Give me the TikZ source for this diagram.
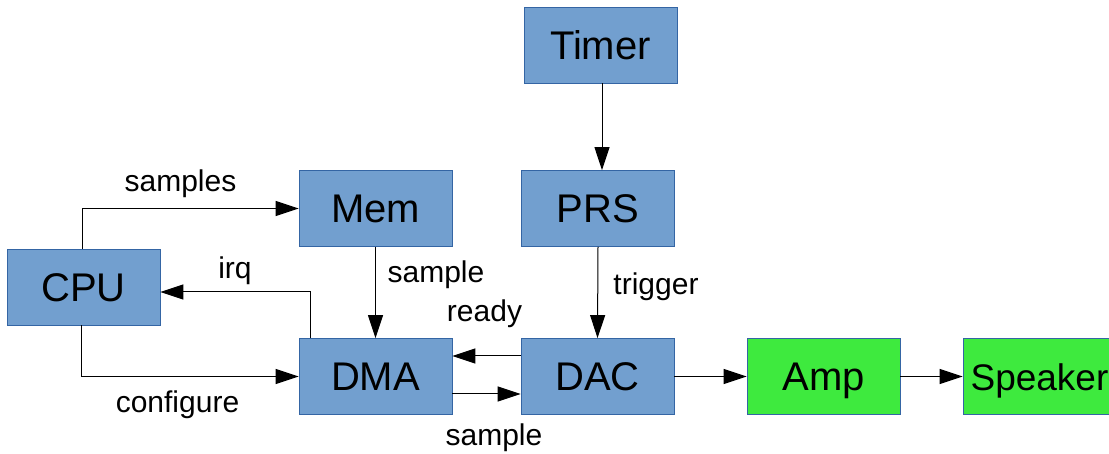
\documentclass[tikz,border=0pt]{standalone}
\usepackage{fontspec}
\setmainfont{Liberation Sans}
\usetikzlibrary{arrows.meta}
\definecolor{blockblue}{RGB}{114,159,207}
\definecolor{blockgreen}{RGB}{62,234,62}
\definecolor{edgeblue}{RGB}{52,101,164}
\tikzset{
  block/.style={draw=edgeblue, line width=0.8pt, fill=blockblue, minimum width=153pt,
    minimum height=76pt, inner sep=0pt, text height=28.5pt, text depth=0pt,
    font=\fontsize{40}{40}\selectfont},
  outblock/.style={block, fill=blockgreen},
  arr/.style={line width=1pt, -{Triangle[length=23pt,width=15pt]}},
  lbl/.style={anchor=base, inner sep=0pt, font=\fontsize{30}{30}\selectfont}
}
\begin{document}
\begin{tikzpicture}[x=1pt, y=-1pt]
\useasboundingbox (0,0) rectangle (1109,454);

% blocks
\node[block] (Timer) at (600.5,45) {Timer};
\node[block] (Mem) at (375.5,208.5) {Mem};
\node[block] (PRS) at (598,208.5) {PRS};
\node[block] (CPU) at (83.5,287) {CPU};
\node[block] (DMA) at (375.5,376.5) {DMA};
\node[block] (DAC) at (597.5,376.5) {DAC};
\node[outblock] (Amp) at (823.5,376.5) {Amp};
\node[outblock, font=\fontsize{37}{37}\selectfont] (Speaker) at (1039.5,376.5) {Speaker};

% connectors
\draw[arr] ([xshift=1.5pt]Timer.south) -- ([xshift=1.5pt]Timer.south |- PRS.north);
\draw[arr] ([xshift=-1.5pt]CPU.north) |- (Mem.west);
\draw[arr] (Mem.south) -- (DMA.north);
\draw[arr] (PRS.south) -- (DAC.north);
\draw[arr] ([xshift=-65.5pt]DMA.north) |- ([yshift=-5pt]CPU.east);
\draw[arr] ([xshift=-2.5pt]CPU.south) |- (DMA.west);
\draw[arr] ([yshift=20.5pt]DAC.west) -- ([yshift=20.5pt]DMA.east);
\draw[arr] ([yshift=-17.5pt]DMA.east) -- ([yshift=-17.5pt]DAC.west);
\draw[arr] (DAC.east) -- (Amp.west);
\draw[arr] (Amp.east) -- (Speaker.west);

% connector labels
\node[lbl] (lSamples) at (180.5,192) {samples};
\node[lbl] (lConfigure) at (177.5,413) {configure};
\node[lbl] (lIrq) at (235,279) {irq};
\node[lbl] (lSampleMem) at (436,283) {sample};
\node[lbl] (lReady) at (484.5,322) {ready};
\node[lbl] (lSampleDac) at (494,445) {sample};
\node[lbl] (lTrigger) at (656,295) {trigger};
\end{tikzpicture}
\end{document}
